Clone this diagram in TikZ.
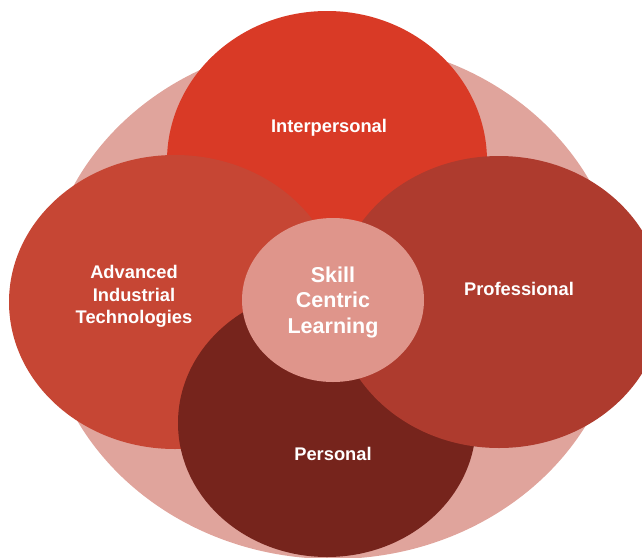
\documentclass[tikz,border=0pt]{standalone}
\usepackage{fontspec}
\setmainfont{Liberation Sans}
\usetikzlibrary{shapes.geometric}
\definecolor{cpink}{RGB}{224,164,156}
\definecolor{cinter}{RGB}{217,58,38}
\definecolor{cadv}{RGB}{198,70,52}
\definecolor{cprof}{RGB}{174,59,46}
\definecolor{cpers}{RGB}{118,36,28}
\definecolor{ccenter}{RGB}{223,149,139}
\tikzset{
  blob/.style={ellipse, draw=none, inner sep=0pt, outer sep=0pt},
  lbl/.style={text=white, align=center, inner sep=0pt, font=\bfseries\fontsize{18.3}{22.5}\selectfont},
  biglbl/.style={text=white, align=center, inner sep=0pt, font=\bfseries\fontsize{21.5}{25.5}\selectfont}
}
\begin{document}
\begin{tikzpicture}[x=1pt,y=-1pt]
\useasboundingbox (0,0) rectangle (642,557);
\clip (0,0) rectangle (642,557);
\node[blob, fill=cpink, minimum width=578pt, minimum height=518pt] (bg) at (333,300) {};
\node[blob, fill=cinter, minimum width=320pt, minimum height=300pt] (inter) at (327,161) {};
\node[blob, fill=cadv, minimum width=332pt, minimum height=294pt] (adv) at (175,302) {};
\node[blob, fill=cpers, minimum width=298pt, minimum height=268pt] (pers) at (327,423) {};
\node[blob, fill=cprof, minimum width=328pt, minimum height=292pt] (prof) at (499,302) {};
\node[blob, fill=ccenter, minimum width=182pt, minimum height=164pt] (core) at (333,300) {};
\node[lbl] (tinter) at (329,128) {Interpersonal};
\node[lbl] (tadv) at (134,296.5) {Advanced\\Industrial\\Technologies};
\node[lbl] (tprof) at (519,289) {Professional};
\node[lbl] (tpers) at (333,454) {Personal};
\node[biglbl] (tcore) at (333,302) {Skill\\Centric\\Learning};
\end{tikzpicture}
\end{document}
